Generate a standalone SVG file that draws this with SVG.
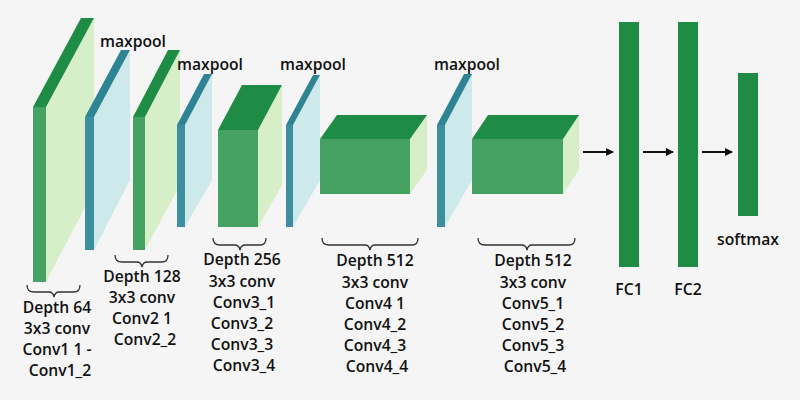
<svg xmlns="http://www.w3.org/2000/svg" width="800" height="400" viewBox="0 0 800 400">
<defs>
<style>
.dk{fill:#1f8c45}.fr{fill:#45a262}.lg{fill:#d7efc9}.tl{fill:#3d8fa0}.tt{fill:#2f8494}.lb{fill:#cde9ec}
text{font-family:"Open Sans","Noto Sans",sans-serif;font-weight:600;font-size:15.7px;fill:#111;text-anchor:middle}
.br{fill:none;stroke:#333;stroke-width:1.3}
.ar{stroke:#111;stroke-width:2;fill:none}
</style>
<marker id="ah" markerWidth="8" markerHeight="8" refX="7" refY="4" orient="auto" markerUnits="userSpaceOnUse"><path d="M0,0 L8,4 L0,8 z" fill="#111"/></marker>
</defs>
<rect width="800" height="400" fill="#f5f5f5"/>
<g id="conv1">
<polygon class="lg" points="46,107 94,18 94,190 46,282"/>
<polygon class="dk" points="33,107 46,107 94,18 81,18"/>
<rect class="fr" x="33" y="107" width="13" height="175"/>
<path class="br" d="M27,285 q0,7 7,7 h15 q4,0 5,5 q1,-5 5,-5 h15 q6,0 6,-7"/>
<text x="57" y="313">Depth 64</text><text x="57" y="334">3x3 conv</text><text x="57" y="355">Conv1 1 -</text><text x="60" y="376">Conv1_2</text>
</g>
<g id="pool1">
<polygon class="lb" points="94,117 130,50 130,180 94,250"/>
<polygon class="tt" points="85,117 94,117 130,50 121,50"/>
<rect class="tl" x="85" y="117" width="9" height="133"/>
<text x="133" y="47">maxpool</text>
</g>
<g id="conv2">
<polygon class="lg" points="145,117 180,50 180,185 145,250"/>
<polygon class="dk" points="133,117 145,117 180,50 168,50"/>
<rect class="fr" x="133" y="117" width="12" height="133"/>
<path class="br" d="M115,255 q0,7 7,7 h15 q4,0 5,5 q1,-5 5,-5 h15 q6,0 6,-7"/>
<text x="142" y="282">Depth 128</text><text x="142" y="303">3x3 conv</text><text x="142" y="324">Conv2 1</text><text x="145" y="345">Conv2_2</text>
</g>
<g id="pool2">
<polygon class="lb" points="185,125 212,74 212,180 185,227"/>
<polygon class="tt" points="177,125 185,125 212,74 204,74"/>
<rect class="tl" x="177" y="125" width="8" height="102"/>
<text x="210" y="70">maxpool</text>
</g>
<g id="conv3">
<polygon class="lg" points="258,130 282,85 282,185 258,227"/>
<polygon class="dk" points="218,130 258,130 282,85 242,85"/>
<rect class="fr" x="218" y="130" width="40" height="97"/>
<path class="br" d="M213,238 q0,7 7,7 h15 q4,0 5,5 q1,-5 5,-5 h15 q6,0 6,-7"/>
<text x="242" y="265">Depth 256</text><text x="242" y="287">3x3 conv</text><text x="244" y="308">Conv3_1</text><text x="242" y="329">Conv3_2</text><text x="242" y="350">Conv3_3</text><text x="244" y="371">Conv3_4</text>
</g>
<g id="pool3">
<polygon class="lb" points="293,125 320,75 320,180 293,227"/>
<polygon class="tt" points="286,125 293,125 320,75 313,75"/>
<rect class="tl" x="286" y="125" width="7" height="102"/>
<text x="313" y="70">maxpool</text>
</g>
<g id="conv4">
<polygon class="lg" points="410,139 427,115 427,170 410,194"/>
<polygon class="dk" points="320,139 410,139 427,115 337,115"/>
<rect class="fr" x="320" y="139" width="90" height="55"/>
<path class="br" d="M322,238 q0,7 7,7 h36 q4,0 5,5 q1,-5 5,-5 h37 q6,0 6,-7"/>
<text x="375" y="266">Depth 512</text><text x="375" y="288">3x3 conv</text><text x="375" y="309">Conv4 1</text><text x="375" y="330">Conv4_2</text><text x="375" y="351">Conv4_3</text><text x="377" y="372">Conv4_4</text>
</g>
<g id="pool4">
<polygon class="lb" points="445,125 472,74 472,180 445,227"/>
<polygon class="tt" points="437,125 445,125 472,74 464,74"/>
<rect class="tl" x="437" y="125" width="8" height="102"/>
<text x="467" y="70">maxpool</text>
</g>
<g id="conv5">
<polygon class="lg" points="563,139 579,115 579,170 563,194"/>
<polygon class="dk" points="472,139 563,139 579,115 488,115"/>
<rect class="fr" x="472" y="139" width="91" height="55"/>
<path class="br" d="M478,238 q0,7 7,7 h37 q4,0 5,5 q1,-5 5,-5 h37 q6,0 6,-7"/>
<text x="533" y="266">Depth 512</text><text x="533" y="288">3x3 conv</text><text x="533" y="309">Conv5_1</text><text x="533" y="330">Conv5_2</text><text x="533" y="351">Conv5_3</text><text x="535" y="372">Conv5_4</text>
</g>
<g id="fc1"><rect class="dk" x="619" y="22" width="20" height="245"/><text x="629" y="295">FC1</text></g>
<g id="fc2"><rect class="dk" x="678" y="22" width="20" height="245"/><text x="688" y="295">FC2</text></g>
<g id="softmax"><rect class="dk" x="738" y="73" width="20" height="143"/><text x="748" y="245">softmax</text></g>
<g id="connectors">
<line class="ar" x1="583" y1="152" x2="613" y2="152" marker-end="url(#ah)"/>
<line class="ar" x1="643" y1="152" x2="673" y2="152" marker-end="url(#ah)"/>
<line class="ar" x1="702" y1="152" x2="732" y2="152" marker-end="url(#ah)"/>
</g>
</svg>
